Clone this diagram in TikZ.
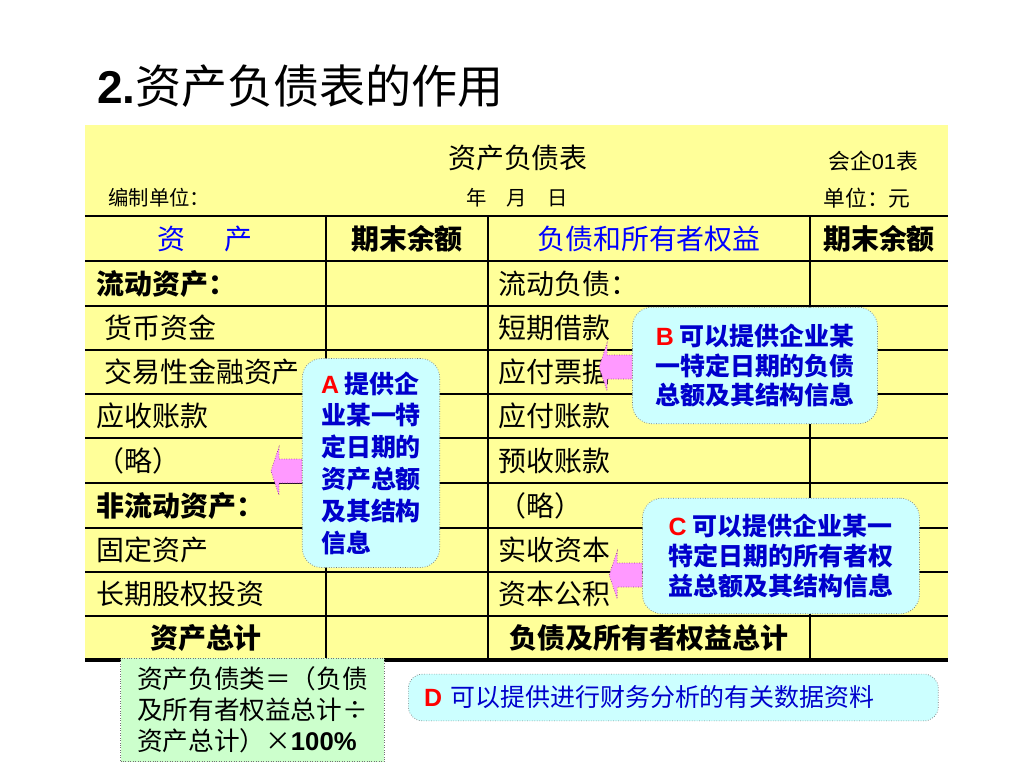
\documentclass[tikz,border=0pt]{standalone}
\usepackage{fontspec}
\setmainfont{Noto Sans CJK SC}
\newfontfamily\arial{Liberation Sans}
\usetikzlibrary{calc}
\definecolor{sheetyellow}{RGB}{255,255,153}
\definecolor{notecyan}{RGB}{204,255,255}
\definecolor{notegreen}{RGB}{204,255,204}
\definecolor{arrowpink}{RGB}{255,153,255}
\definecolor{noteblue}{RGB}{0,0,204}
\definecolor{headblue}{RGB}{0,0,255}
\tikzset{
  cell/.style={anchor=west, inner sep=0pt, font=\fontsize{15.9}{18}\selectfont},
  midcell/.style={cell, anchor=center},
  rule/.style={line width=1.1pt},
  note/.style={draw=black!55, densely dotted, fill=notecyan, rounded corners=11pt, inner sep=0pt, text=noteblue, font=\fontsize{14.2}{17}\selectfont\bfseries},
  pointer/.style={draw=violet!80, densely dotted, fill=arrowpink},
}
\newcommand\notearrow[2]{\draw[pointer] (#1) ++(0,-12) -- ++(-#2,0) -- ++(0,-12) -- ++(-8,24) -- ++(8,24) -- ++(0,-12) -- ++(#2,0) -- cycle;}
\begin{document}
\begin{tikzpicture}[x=0.02cm, y=-0.02cm]
		\useasboundingbox[fill=white] (0,0) rectangle (1024,768);
		% title
		\node[anchor=west, inner sep=0pt, font=\fontsize{26.2}{30}\selectfont] (title) at (97,86) {{\arial\bfseries 2.}资产负债表的作用};
		% sheet
		\fill[sheetyellow] (85,125) rectangle (948,660);
		\node[midcell] (sheetname) at (518,158) {资产负债表};
		\node[midcell, font=\fontsize{12.4}{14}\selectfont] (formno) at (873,161) {会企{\arial 01}表};
		\node[cell, font=\fontsize{11.6}{14}\selectfont] (maker) at (108,198) {编制单位：};
		\node[midcell, font=\fontsize{11.6}{14}\selectfont] (date) at (517,198) {年\hspace{1em}月\hspace{1em}日};
		\node[midcell, font=\fontsize{12.4}{14}\selectfont] (unit) at (867,198) {单位：元};
		% rows
		\draw[line width=1.6pt] (85,216) -- (948,216);
		\draw[rule] (85,261) -- (948,261);
		\draw[rule] (85,306) -- (948,306);
		\draw[rule] (85,350) -- (948,350);
		\draw[rule] (85,394) -- (948,394);
		\draw[rule] (85,438) -- (948,438);
		\draw[rule] (85,483) -- (948,483);
		\draw[rule] (85,528) -- (948,528);
		\draw[rule] (85,572) -- (948,572);
		\draw[rule] (85,616) -- (948,616);
		\draw[line width=2.4pt] (85,660) -- (948,660);
		% columns
		\draw[rule] (326,216) -- (326,660);
		\draw[rule] (488,216) -- (488,660);
		\draw[rule] (810,216) -- (810,660);
		% heading
		\node[midcell, text=headblue] (hdasset) at (205,239) {资\hspace{1.4em}产};
		\node[midcell, font=\fontsize{15.9}{18}\selectfont\bfseries] (hdend1) at (407,239) {期末余额};
		\node[midcell, text=headblue] (hdliab) at (649,239) {负债和所有者权益};
		\node[midcell, font=\fontsize{15.9}{18}\selectfont\bfseries] (hdend2) at (879,239) {期末余额};
		% assets
		\node[cell, font=\fontsize{15.9}{18}\selectfont\bfseries] (curasset) at (96,284) {流动资产：};
		\node[cell] (cash) at (104,328) {货币资金};
		\node[cell] (trading) at (104,372) {交易性金融资产};
		\node[cell] (recv) at (96,416) {应收账款};
		\node[cell] (omitl) at (96,461) {（略）};
		\node[cell, font=\fontsize{15.9}{18}\selectfont\bfseries] (noncur) at (96,506) {非流动资产：};
		\node[cell] (fixed) at (96,550) {固定资产};
		\node[cell] (ltinv) at (96,594) {长期股权投资};
		\node[midcell, font=\fontsize{15.9}{18}\selectfont\bfseries] (totala) at (206,638) {资产总计};
		% liabilities and equity
		\node[cell] (curliab) at (498,284) {流动负债：};
		\node[cell] (stloan) at (498,328) {短期借款};
		\node[cell] (notespay) at (498,372) {应付票据};
		\node[cell] (acctpay) at (498,416) {应付账款};
		\node[cell] (advrecv) at (498,461) {预收账款};
		\node[cell] (omitr) at (498,506) {（略）};
		\node[cell] (paidcap) at (498,550) {实收资本};
		\node[cell] (capres) at (498,594) {资本公积};
		\node[midcell, font=\fontsize{15.9}{18}\selectfont\bfseries] (totall) at (649,638) {负债及所有者权益总计};
		% notes
		\node[note, minimum width=78.2pt, minimum height=119pt, align=left, font=\fontsize{14.2}{18.1}\selectfont\bfseries] (noteA) at (371,463) {{\arial\textcolor{red}{A}} 提供企\\业某一特\\定日期的\\资产总额\\及其结构\\信息};
		\node[note, minimum width=139.5pt, minimum height=66.3pt, align=center] (noteB) at (755,365.5) {{\arial\textcolor{red}{B}} 可以提供企业某\\一特定日期的负债\\总额及其结构信息};
		\node[note, minimum width=157.6pt, minimum height=65.8pt, align=left] (noteC) at (781,556) {{\arial\textcolor{red}{C}} 可以提供企业某一\\特定日期的所有者权\\益总额及其结构信息};
		\node[note, anchor=west, minimum height=26.6pt, text width=283.6pt, inner xsep=9pt, align=left, rounded corners=8pt, font=\fontsize{14.2}{17}\selectfont] (noteD) at (408,697.5) {{\arial\bfseries\textcolor{red}{D}} 可以提供进行财务分析的有关数据资料};
		\node[draw=black!55, densely dotted, fill=notegreen, minimum width=150.2pt, minimum height=59pt, inner sep=0pt, align=left, font=\fontsize{14.6}{17.6}\selectfont] (ratio) at (252.5,710) {资产负债类＝（负债\\及所有者权益总计÷\\资产总计）×{\arial\bfseries 100\%}};
		% arrows
		\notearrow{$(noteA.west)+(0,8)$}{23}
		\notearrow{$(noteB.west)+(0,1.5)$}{25}
		\notearrow{$(noteC.west)+(0,19)$}{25}
\end{tikzpicture}
\end{document}
